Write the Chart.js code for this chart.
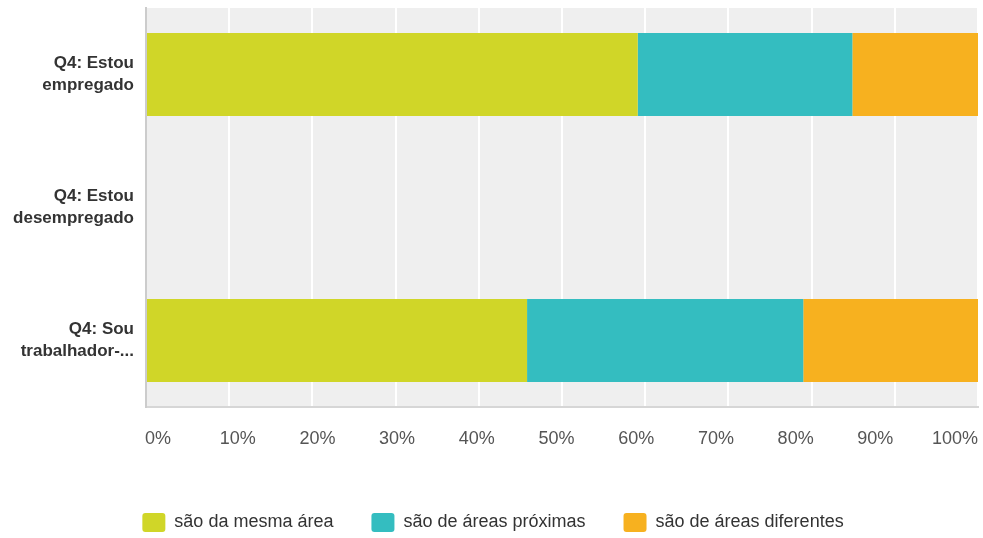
<!DOCTYPE html>
<html>
<head>
<meta charset="utf-8">
<script src="https://cdn.jsdelivr.net/npm/chart.js@4.4.1/dist/chart.umd.min.js"></script>
<style>
  html, body { margin: 0; padding: 0; background: #fff; }
  #wrap { width: 983px; height: 538px; }
</style>
</head>
<body>
<div id="wrap"><canvas id="myChart"></canvas></div>
<script>
// categorias (eixo vertical)
const categories = [
  ['Q4: Estou', 'empregado'],
  ['Q4: Estou', 'desempregado'],
  ['Q4: Sou', 'trabalhador-...']
];

// séries em %
const mesmaArea       = [59.1, null, 45.8];
const areasProximas   = [25.8, null, 33.2];
const areasDiferentes = [15.1, null, 21.0];

const seriesNames = ['são da mesma área', 'são de áreas próximas', 'são de áreas diferentes'];
const tickValues = [0, 10, 20, 30, 40, 50, 60, 70, 80, 90, 100];

const fontFam = 'Arial, "Liberation Sans", sans-serif';

// fundo cinza da área do gráfico
const plotBg = {
  id: 'plotBg',
  beforeDraw(chart) {
    const { ctx, chartArea: a } = chart;
    ctx.save();
    ctx.fillStyle = '#efefef';
    ctx.fillRect(a.left, a.top, a.right - a.left, a.bottom - a.top);
    ctx.restore();
  }
};

const ctx = document.getElementById('myChart');

new Chart(ctx, {
  type: 'bar',
  data: {
    labels: categories,
    datasets: [
      { label: seriesNames[0], data: mesmaArea, backgroundColor: '#d0d628' },
      { label: seriesNames[1], data: areasProximas, backgroundColor: '#34bdc0' },
      { label: seriesNames[2], data: areasDiferentes, backgroundColor: '#f7b11f' }
    ]
  },
  options: {
    indexAxis: 'y',
    responsive: true,
    maintainAspectRatio: false,
    animation: false,
    datasets: {
      bar: { categoryPercentage: 1, barPercentage: 0.625, borderWidth: 0 }
    },
    layout: { padding: { top: 8, right: 5, left: 8, bottom: -4 } },
    scales: {
      x: {
        stacked: true,
        min: 0,
        max: 100,
        position: 'bottom',
        ticks: { display: false, stepSize: 10 },
        grid: { color: '#ffffff', lineWidth: 2, drawTicks: false },
        border: { display: true, color: '#d6d6d6', width: 2 },
        afterFit: (scale) => { scale.paddingLeft = 0; scale.paddingRight = 0; }
      },
      // eixo só para os rótulos (espalhados como no original)
      x2: {
        position: 'bottom',
        min: -1.506,
        max: 102.88,
        grid: { display: false, drawTicks: false },
        border: { display: false },
        afterBuildTicks: (scale) => { scale.ticks = tickValues.map(v => ({ value: v })); },
        afterFit: (scale) => { scale.height = 68; scale.paddingLeft = 0; scale.paddingRight = 0; },
        ticks: {
          padding: 21,
          autoSkip: false,
          maxRotation: 0,
          color: '#555555',
          font: { family: fontFam, size: 18 },
          callback: (v) => v + '%'
        }
      },
      y: {
        stacked: true,
        afterFit: (scale) => { scale.width = 138; scale.paddingTop = 0; scale.paddingBottom = 0; },
        grid: { display: false, drawTicks: false },
        border: { display: true, color: '#cccccc', width: 2 },
        ticks: {
          padding: 12,
          color: '#333333',
          font: { family: fontFam, size: 17, weight: 'bold', lineHeight: 1.3 }
        }
      }
    },
    plugins: {
      legend: {
        position: 'bottom',
        labels: {
          boxWidth: 23,
          boxHeight: 19,
          padding: 38,
          useBorderRadius: true,
          borderRadius: 3,
          color: '#333333',
          font: { family: fontFam, size: 18 }
        }
      },
      tooltip: { enabled: false }
    }
  },
  plugins: [plotBg]
});
</script>
</body>
</html>
